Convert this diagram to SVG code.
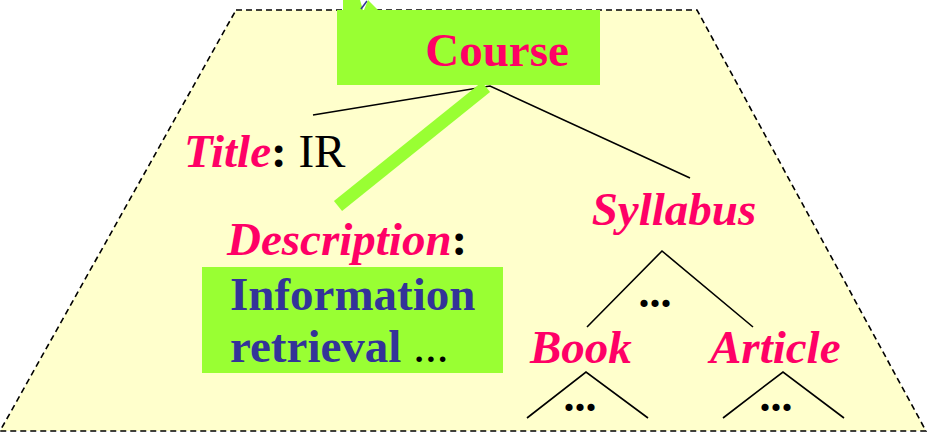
<svg xmlns="http://www.w3.org/2000/svg" width="927" height="433" viewBox="0 0 927 433">
<style>
text{font-family:'Liberation Serif','DejaVu Serif',serif;font-size:47px}
.lbl{font-weight:bold;font-style:italic;fill:#FF0066}
.blk{fill:#000}
.dots{font-size:44px;font-weight:bold;fill:#000;text-anchor:middle}
.edge{stroke:#000;stroke-width:1.6;fill:none}
</style>
<polygon points="236,10 697,10 926,431 0,431" fill="#FFFFCC" stroke="#000" stroke-width="1.6" stroke-dasharray="6,4"/>
<g id="handle">
<polygon points="343,0 360,0 363,10 343,10" fill="#99FF33"/>
<line x1="361" y1="9" x2="367" y2="1" stroke="#333399" stroke-width="1.5"/>
<polygon points="368,0 378,10 364,10" fill="#99FF33"/>
</g>
<g id="course">
<rect x="337" y="10" width="263" height="75" fill="#99FF33"/>
<text x="497" y="66" font-family="Liberation Serif, serif" font-weight="bold" fill="#FF0066" text-anchor="middle">Course</text>
</g>
<g id="connectors">
<polyline class="edge" points="313,115 490,86 690,178"/>
<line x1="338" y1="206" x2="486" y2="87" stroke="#99FF33" stroke-width="13"/>
<polyline class="edge" points="587,327 662,251 753,327"/>
<polyline class="edge" points="527,418 586,372 648,418"/>
<polyline class="edge" points="723,418 783,372 844,418"/>
</g>
<g id="title">
<text x="184" y="167" class="blk" font-family="Liberation Serif, serif"><tspan class="lbl">Title</tspan><tspan font-weight="bold">:</tspan> IR</text>
</g>
<g id="description">
<text x="227" y="255" class="blk" font-family="Liberation Serif, serif"><tspan class="lbl">Description</tspan><tspan font-weight="bold">:</tspan></text>
<rect x="202" y="267" width="301" height="106" fill="#99FF33"/>
<text x="230" y="310" font-family="Liberation Serif, serif" font-weight="bold" fill="#333399">Information</text>
<text x="230" y="362" class="blk" font-family="Liberation Serif, serif"><tspan font-weight="bold" fill="#333399">retrieval</tspan> ...</text>
</g>
<g id="syllabus">
<text x="674" y="225" class="lbl" font-family="Liberation Serif, serif" text-anchor="middle">Syllabus</text>
<text x="655" y="307" class="dots" font-family="Liberation Serif, serif">...</text>
</g>
<g id="book">
<text x="530" y="363" class="lbl" font-family="Liberation Serif, serif">Book</text>
<text x="580" y="411" class="dots" font-family="Liberation Serif, serif">...</text>
</g>
<g id="article">
<text x="710" y="363" class="lbl" font-family="Liberation Serif, serif">Article</text>
<text x="776" y="411" class="dots" font-family="Liberation Serif, serif">...</text>
</g>
</svg>
